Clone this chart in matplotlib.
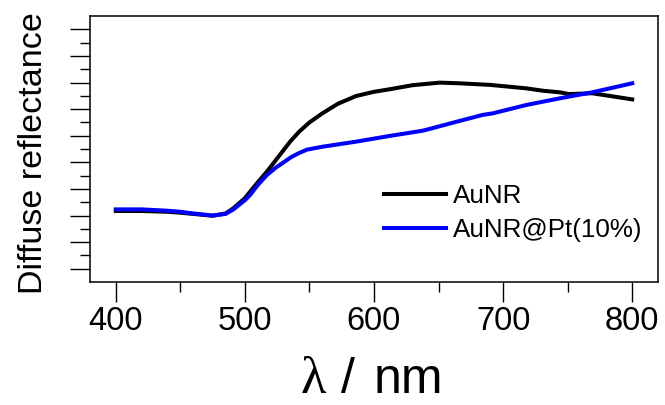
import matplotlib
matplotlib.use('Agg')
import matplotlib.pyplot as plt
from matplotlib.ticker import MultipleLocator

plt.rcParams['font.family'] = ['Liberation Sans', 'DejaVu Sans']

# AuNR (black)
wl_aunr = [400, 420, 440, 450, 460, 475, 485, 491, 500, 504, 510, 517, 527, 535, 542,
           550, 560, 572, 586, 600, 612, 630, 651, 666, 690, 718, 731, 744, 751, 769, 782, 800]
r_aunr = [5.34, 5.34, 5.28, 5.21, 5.12, 4.98, 5.15, 5.54, 6.3, 6.79, 7.5, 8.29, 9.55, 10.55, 11.3,
          12.0, 12.68, 13.4, 13.98, 14.3, 14.49, 14.8, 14.99, 14.94, 14.82, 14.56, 14.38, 14.26,
          14.13, 14.19, 14.0, 13.73]

# AuNR@Pt(10%) (blue)
wl_pt = [400, 420, 440, 450, 460, 475, 485, 491, 500, 504, 510, 517, 524, 530, 536, 542,
         548, 560, 586, 612, 638, 664, 684, 692, 718, 744, 769, 800]
r_pt = [5.46, 5.46, 5.36, 5.28, 5.15, 5.0, 5.12, 5.45, 6.15, 6.54, 7.3, 8.04, 8.6, 9.0, 9.4, 9.7,
        9.95, 10.17, 10.55, 10.98, 11.38, 12.05, 12.56, 12.68, 13.31, 13.81, 14.26, 14.94]

fig = plt.figure(figsize=(6.65, 4.05), dpi=100)
ax = fig.add_axes([90/665, 1-282/405, 568/665, 266/405])

ax.plot(wl_aunr, r_aunr, color='black', lw=2.9, label='AuNR')
ax.plot(wl_pt, r_pt, color='#0000ff', lw=2.9, label='AuNR@Pt(10%)')

ax.set_xlim(380, 820)
ax.set_ylim(0, 20)
ax.xaxis.set_major_locator(MultipleLocator(100))
ax.xaxis.set_minor_locator(MultipleLocator(50))
ax.set_yticks(range(1, 20, 2))
ax.set_yticks(range(2, 19, 2), minor=True)
ax.set_yticklabels([])
ax.tick_params(which='major', direction='out', length=14.5, width=1, labelsize=23.5, pad=2.5)
ax.tick_params(which='minor', direction='out', length=7.5, width=1)
for s in ax.spines.values():
    s.set_linewidth(1.1)

ax.set_ylabel('Diffuse reflectance', fontsize=24.5)
ax.yaxis.set_label_coords(-0.072, 0.485)

# x label: serif lambda + sans unit
base_y = 12/405
fig.text(301/665, base_y, 'λ', family='Liberation Serif', fontsize=38, ha='left', va='baseline')
fig.text(341/665, base_y, '/', fontsize=36, ha='left', va='baseline')
fig.text(374/665, base_y, 'nm', fontsize=36, ha='left', va='baseline')

ax.legend(loc='upper left', bbox_to_anchor=(0.517, 0.368), frameon=False, fontsize=18.7,
          handlelength=2.4, handletextpad=0.27, labelspacing=0.38, borderpad=0, borderaxespad=0)

fig.savefig('out.png', dpi=100)
